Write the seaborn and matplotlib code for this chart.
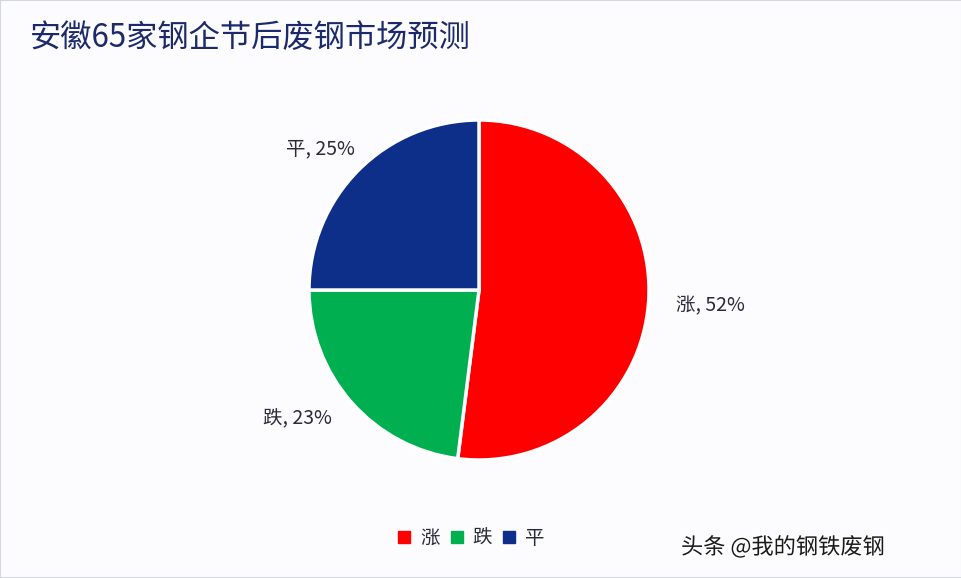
import seaborn as sns
import matplotlib
import matplotlib.pyplot as plt
from matplotlib.patches import Rectangle
from matplotlib.lines import Line2D
import matplotlib.patheffects as pe

# data
labels = ["涨", "跌", "平"]
shares = [52, 23, 25]
colors = ["#FF0000", "#00B050", "#0D2F8A"]
title = "安徽65家钢企节后废钢市场预测"
watermark = "头条 @我的钢铁废钢"

sns.set_theme(style="white")
plt.rcParams['font.family'] = ['Noto Sans CJK SC', 'DejaVu Sans']

W, H = 962, 578
fig = plt.figure(figsize=(W / 100, H / 100), dpi=100, facecolor="#FCFCFE")

# pie axes, centre at (479, 290) px, radius 170 px
cx, cy, r, half = 479, 290, 170, 200
ax = fig.add_axes([(cx - half) / W, (H - cy - half) / H, 2 * half / W, 2 * half / H])
ax.set_facecolor("none")

wedges, texts = ax.pie(shares, colors=colors, startangle=90, counterclock=False,
                       radius=1.0, labels=[f"{l}, {s}%" for l, s in zip(labels, shares)],
                       labeldistance=1.22,
                       wedgeprops=dict(edgecolor="white", linewidth=2.5),
                       textprops=dict(fontsize=14, color="#2B2B3A"))
lim = half / r
ax.set_xlim(-lim, lim)
ax.set_ylim(-lim, lim)
ax.set_aspect("equal")

# place labels like in the reference
positions = {"涨": (1.36, -0.09), "跌": (-1.07, -0.76), "平": (-0.93, 0.83)}
for t, l in zip(texts, labels):
    t.set_position(positions[l])
    t.set_ha("center")
    t.set_va("center")

fig.text(30 / W, 1 - 38 / H, title, fontsize=22.5, color="#1C2A6B", ha="left", va="center")

# legend at the bottom
handles = [Line2D([0], [0], marker="s", linestyle="", markersize=8,
                  markerfacecolor=c, markeredgecolor=c) for c in colors]
fig.legend(handles, labels, loc="center", bbox_to_anchor=(471 / W, 1 - 538 / H),
           ncol=3, frameon=False, fontsize=14, handlelength=0.7, handletextpad=0.45,
           columnspacing=0.55, labelcolor="#2B2B3A")

fig.text(885 / W, 1 - 547 / H, watermark, fontsize=16, color="#1A1A1A", ha="right", va="center",
         fontweight="medium",
         path_effects=[pe.withStroke(linewidth=2, foreground="white")])

# thin frame around the picture
fig.patches.append(Rectangle((0, 0), 1, 1, transform=fig.transFigure, fill=False,
                             edgecolor="#D3D7DF", linewidth=1.5))

fig.savefig("out.png", dpi=100, facecolor=fig.get_facecolor())
